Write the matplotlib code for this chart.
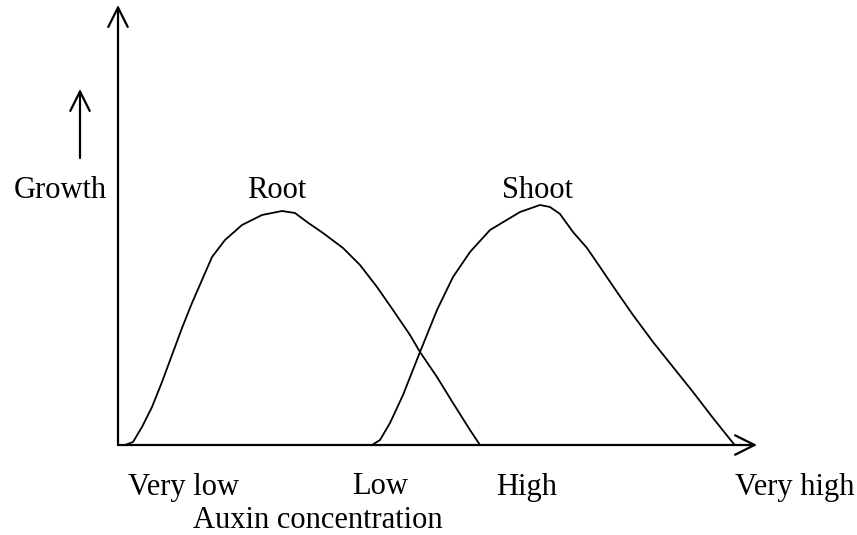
import matplotlib
matplotlib.use("Agg")
import matplotlib.pyplot as plt

# Data (concentration units along x, growth along y; origin at axes corner)
root_x = [7, 15, 24, 34, 44, 54, 64, 74, 84, 94, 107, 124, 144, 164, 177, 189, 205,
          225, 242, 259, 275, 292, 302, 319, 335, 352, 362]
root_y = [0, 3, 18, 38, 63, 90, 117, 142, 165, 188, 205, 220, 230, 234, 232, 223, 212,
          197, 180, 158, 135, 110, 93, 68, 42, 15, 0]
shoot_x = [254, 262, 272, 285, 302, 319, 335, 352, 372, 402, 422, 432, 442, 455, 469,
           482, 499, 515, 535, 555, 575, 595, 615, 617]
shoot_y = [0, 5, 22, 50, 93, 135, 168, 193, 215, 233, 240, 238, 231, 213, 197,
           178, 153, 130, 103, 78, 53, 27, 2, 0]
tick_pos = [65, 262, 409, 677]
tick_labels = ["Very low", "Low", "High", "Very high"]

plt.rcParams['font.family'] = ['Liberation Serif', 'DejaVu Serif']
FS = 22

W, H = 857, 535
fig = plt.figure(figsize=(W / 100, H / 100), dpi=100)
ax = fig.add_axes([118 / W, 90 / H, 639 / W, 440 / H])
ax.set_xlim(0, 639)
ax.set_ylim(0, 440)
ax.axis('off')

ax.plot(root_x, root_y, color='black', lw=1.3, solid_joinstyle='round', solid_capstyle='round')
ax.plot(shoot_x, shoot_y, color='black', lw=1.3, solid_joinstyle='round', solid_capstyle='round')

arrow_kw = dict(arrowstyle='->,head_length=14,head_width=7', lw=1.6,
                color='black', mutation_scale=1, shrinkA=0, shrinkB=0)
# x axis
ax.annotate('', xy=(1, 0), xycoords='axes fraction', xytext=(0, 0),
            textcoords='axes fraction', arrowprops=arrow_kw, annotation_clip=False)
# y axis
ax.annotate('', xy=(0, 1), xycoords='axes fraction', xytext=(0, 0),
            textcoords='axes fraction', arrowprops=arrow_kw, annotation_clip=False)
# small growth arrow
ax.annotate('', xy=(-38, 356), xycoords='data', xytext=(-38, 287),
            textcoords='data', arrowprops=arrow_kw, annotation_clip=False)

ax.text(-58, 255, "Growth", fontsize=FS, ha='center', va='center', clip_on=False)
ax.text(159, 255, "Root", fontsize=FS, ha='center', va='center', clip_on=False)
ax.text(420, 255, "Shoot", fontsize=FS, ha='center', va='center', clip_on=False)
for p, l in zip(tick_pos, tick_labels):
    ax.text(p, -42, l, fontsize=FS, ha='center', va='center', clip_on=False)
ax.text(200, -75, "Auxin concentration", fontsize=FS, ha='center', va='center', clip_on=False)

fig.savefig("out.png", dpi=100)
